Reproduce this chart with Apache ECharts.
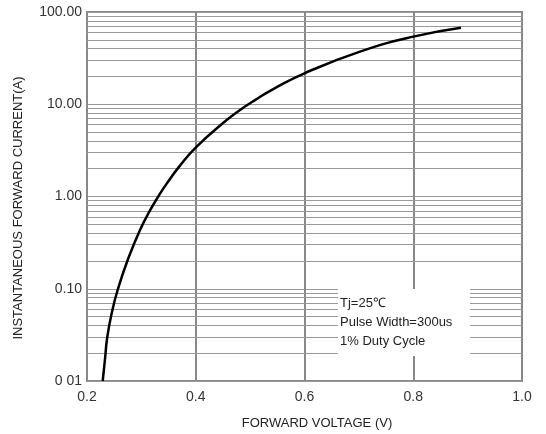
<!DOCTYPE html>
<html>
<head>
<meta charset="utf-8">
<script src="https://cdn.jsdelivr.net/npm/echarts@6/dist/echarts.min.js"></script>
<style>html,body{margin:0;padding:0;background:#fff}#c{width:546px;height:434px}</style>
</head>
<body>
<div id="c"></div>
<script>
// Forward voltage (V) and instantaneous forward current (A)
var voltage = [0.2289, 0.2330, 0.2373, 0.2460, 0.2570, 0.2760, 0.2975, 0.3159, 0.3311, 0.3466, 0.3710, 0.4017, 0.4569, 0.4814, 0.5090, 0.5426, 0.6009, 0.7021, 0.8001, 0.8878];
var current = [0.0100, 0.0170, 0.0300, 0.0562, 0.100, 0.214, 0.434, 0.706, 1.00, 1.38, 2.16, 3.47, 6.74, 8.67, 11.1, 14.6, 21.8, 37.2, 54.1, 67.6];
var xTickLabels = ['0.2', '0.4', '0.6', '0.8', '1.0'];
var yTickLabels = ['0 01', '0.10', '1.00', '10.00', '100.00'];
var decades = [0.01, 0.1, 1, 10];
var minorMultipliers = [2, 3, 4, 5, 6, 7, 8, 9];
var noteLines = ['Tj=25\u2103', 'Pulse Width=300us', '1% Duty Cycle'];

var curveData = voltage.map(function (v, i) { return [v, current[i]]; });
var minorLines = [];
decades.forEach(function (d) {
  minorMultipliers.forEach(function (m) { minorLines.push({ yAxis: d * m }); });
});

var font = 'Arial, "Liberation Sans", sans-serif';
var chart = echarts.init(document.getElementById('c'));
chart.setOption({
  animation: false,
  grid: { left: 87, right: 24, top: 12, bottom: 53, show: true, borderColor: '#888', borderWidth: 2, backgroundColor: '#fff' },
  xAxis: {
    type: 'value', min: 0.2, max: 1.0, interval: 0.2,
    axisLine: { show: false },
    axisTick: { show: false },
    axisLabel: {
      margin: 9, color: '#333', fontFamily: font, fontSize: 14,
      formatter: function (v) { return xTickLabels[Math.round((v - 0.2) / 0.2)]; }
    },
    splitLine: { show: true, lineStyle: { color: '#888', width: 2 } }
  },
  yAxis: {
    type: 'log', logBase: 10, min: 0.01, max: 100, splitNumber: 4,
    axisLine: { show: false },
    axisTick: { show: false },
    axisLabel: {
      margin: 5, color: '#333', fontFamily: font, fontSize: 14,
      formatter: function (v) { return yTickLabels[Math.round(Math.log10(v)) + 2]; }
    },
    splitLine: { show: true, lineStyle: { color: '#999', width: 1 } }
  },
  series: [
    {
      type: 'line', data: [], z: 1, silent: true,
      markLine: {
        silent: true, symbol: 'none', label: { show: false },
        lineStyle: { type: 'solid', color: '#999', width: 1 },
        data: minorLines
      }
    },
    {
      type: 'line', data: curveData, smooth: true, showSymbol: false, symbol: 'none', z: 5,
      lineStyle: { color: '#000', width: 2.5 }
    }
  ],
  graphic: [
    { type: 'rect', z: 100, shape: { x: 338, y: 289, width: 132, height: 67 }, style: { fill: '#fff' } },
    { type: 'text', z: 101, left: 340, top: 297, style: { text: noteLines[0], font: '13px ' + font, fill: '#222' } },
    { type: 'text', z: 101, left: 340, top: 316, style: { text: noteLines[1], font: '13px ' + font, fill: '#222' } },
    { type: 'text', z: 101, left: 340, top: 335, style: { text: noteLines[2], font: '13px ' + font, fill: '#222' } },
    { type: 'text', z: 101, x: 317, y: 423, style: { text: 'FORWARD VOLTAGE (V)', font: '13px ' + font, fill: '#222', align: 'center', verticalAlign: 'middle' } },
    { type: 'text', z: 101, x: 18, y: 208, rotation: Math.PI / 2, style: { text: 'INSTANTANEOUS FORWARD CURRENT(A)', font: '13px ' + font, fill: '#222', align: 'center', verticalAlign: 'middle' } }
  ]
});
</script>
</body>
</html>
